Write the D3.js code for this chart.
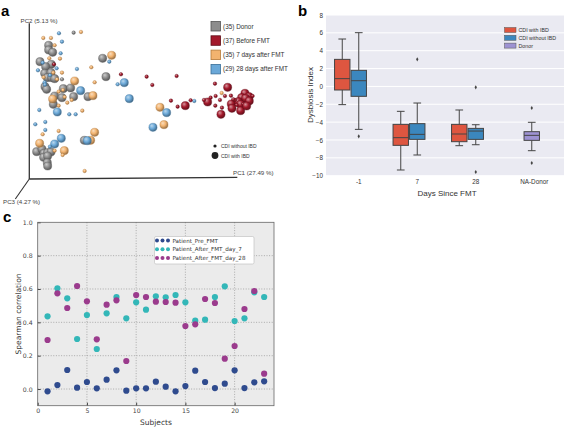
<!DOCTYPE html>
<html><head><meta charset="utf-8">
<script src="https://cdn.jsdelivr.net/npm/d3@7"></script>
<style>body{margin:0;background:#fff}svg{display:block}</style>
</head><body>
<script>
// ---------- Panel a data (PCoA scores; [PC1, PC2, CDI with IBD]) ----------
const donorPts = [[0.133,0.439,0],[0.058,0.401,1],[0.058,0.387,1],[0.070,0.380,1],[0.032,0.352,1],[0.066,0.344,1],[0.049,0.337,1],[0.046,0.317,1],[0.065,0.319,1],[0.054,0.304,1],[0.067,0.304,1],[0.076,0.301,1],[0.047,0.277,1],[0.052,0.269,1],[0.102,0.271,1],[0.124,0.273,1],[0.098,0.299,0],[0.220,0.362,1],[0.230,0.307,1],[0.076,0.249,1],[0.098,0.244,1],[0.133,0.247,1],[0.176,0.247,1],[0.072,0.224,1],[0.075,0.234,0],[0.165,0.116,1],[0.022,0.082,1],[0.038,0.090,1],[0.044,0.077,1],[0.055,0.079,1],[0.065,0.081,1],[0.043,0.065,1],[0.055,0.069,1],[0.054,0.049,1],[0.055,0.039,1]];
const day7Pts = [[0.155,0.441,0],[0.042,0.423,0],[0.065,0.423,0],[0.076,0.401,0],[0.092,0.361,0],[0.072,0.319,0],[0.043,0.305,0],[0.083,0.299,0],[0.098,0.319,0],[0.186,0.335,0],[0.247,0.371,1],[0.136,0.294,1],[0.196,0.290,0],[0.088,0.262,0],[0.101,0.267,0],[0.070,0.240,1],[0.106,0.246,0],[0.191,0.250,1],[0.114,0.229,0],[0.088,0.220,0],[0.159,0.205,0],[0.088,0.144,0],[0.040,0.134,0],[0.196,0.140,1],[0.184,0.116,1],[0.031,0.107,1],[0.105,0.085,1],[0.076,0.085,0],[0.100,0.072,0],[0.166,0.024,0],[0.392,0.215,1],[0.404,0.163,1],[0.577,0.258,0],[0.127,0.237,0],[0.060,0.362,0]];
const day28Pts = [[0.089,0.437,0],[0.098,0.412,0],[0.094,0.377,0],[0.026,0.326,0],[0.046,0.290,0],[0.143,0.330,0],[0.240,0.352,0],[0.154,0.265,1],[0.265,0.284,0],[0.285,0.289,1],[0.300,0.241,1],[0.084,0.201,1],[0.120,0.194,0],[0.139,0.194,0],[0.018,0.164,0],[0.048,0.171,0],[0.048,0.147,0],[0.096,0.122,1],[0.174,0.115,1],[0.076,0.105,1],[0.371,0.155,1],[0.412,0.199,1],[0.495,0.234,0],[0.047,0.283,0],[0.062,0.311,0],[0.040,0.349,0],[0.082,0.332,0],[0.030,0.207,0],[0.062,0.097,0]];
const beforePts = [[0.275,0.314,0],[0.352,0.307,0],[0.369,0.282,0],[0.442,0.309,0],[0.425,0.235,0],[0.445,0.217,0],[0.468,0.220,1],[0.484,0.236,0],[0.557,0.286,0],[0.595,0.275,1],[0.559,0.249,0],[0.587,0.249,0],[0.605,0.250,0],[0.647,0.257,1],[0.659,0.247,1],[0.670,0.249,0],[0.637,0.244,1],[0.649,0.242,1],[0.544,0.244,0],[0.535,0.231,1],[0.606,0.225,1],[0.627,0.232,1],[0.634,0.224,1],[0.660,0.234,1],[0.642,0.225,0],[0.622,0.222,0],[0.608,0.212,1],[0.634,0.205,1],[0.558,0.220,0],[0.578,0.214,0],[0.575,0.194,1],[0.074,0.344,0],[0.617,0.237,0],[0.652,0.219,1],[0.612,0.239,0],[0.572,0.237,0],[0.524,0.237,0]];
const groupLabels = ["(35) Donor","(37) Before FMT","(35) 7 days after FMT","(29) 28 days after FMT"];
const sizeLabels = ["CDI without IBD","CDI with IBD"];
const axisLabelsA = ["PC1 (27.49 %)","PC2 (5.13 %)","PC3 (4.27 %)"];

// ---------- Panel b data (Dysbiosis index box statistics) ----------
const daysCats = ["-1","7","28","NA-Donor"];
const hueNames = ["CDI with IBD","CDI without IBD","Donor"];
// [category, hue, lowWhisker, Q1, median, Q3, highWhisker]
const boxStats = [
  ["-1",0,-2.04,-0.40,0.87,3.03,5.31],
  ["-1",1,-4.81,-1.11,0.64,1.80,6.02],
  ["7",0,-9.36,-6.60,-5.74,-4.25,-2.79],
  ["7",1,-7.68,-5.93,-5.37,-4.17,-1.86],
  ["28",0,-6.64,-6.19,-5.33,-4.25,-2.64],
  ["28",1,-6.53,-5.93,-5.00,-4.70,-4.29],
  ["NA-Donor",2,-7.20,-6.04,-5.48,-5.07,-4.02]
];
// [category, hue, value]
const outliers = [["-1",1,-5.59],["7",1,3.03],["28",1,-0.10],["28",1,-9.59],["NA-Donor",2,-2.42],["NA-Donor",2,-8.58]];
const yTicksB = [-10,-8,-6,-4,-2,0,2,4,6,8];

// ---------- Panel c data (Spearman correlation with donor) ----------
const subjects = d3.range(1,24);
const preFMT = [-0.014,0.024,0.114,0.008,0.042,0.004,0.056,0.112,-0.010,0.004,0.004,0.044,0.014,-0.014,0.018,0.110,0.042,0.006,0.032,0.112,0.006,0.040,0.046];
const day7 = [0.436,0.604,0.544,0.300,0.444,0.240,0.454,0.552,0.424,0.520,0.476,0.556,0.550,0.564,0.520,0.410,0.416,0.552,0.616,0.408,0.424,0.580,0.552];
const day28 = [0.294,0.574,0.486,0.618,0.526,0.298,0.506,0.532,0.168,0.564,0.552,0.524,0.522,0.518,0.378,0.388,0.540,0.516,0.182,0.258,0.480,0.588,0.092];
const seriesNamesC = ["Patient_Pre_FMT","Patient_After_FMT_day_7","Patient_After_FMT_day_28"];
const xTicksC = [0,5,10,15,20];
const yTicksC = [0.0,0.2,0.4,0.6,0.8,1.0];

const svg = d3.select("body").append("svg").attr("width",567).attr("height",428);
const defs = svg.append("defs");

// =================== Panel a ===================
const A = svg.append("g");
const colA = ["#8d8d8d","#a3192b","#f2b36f","#6aa8d8"];
const darkA = ["#555","#5e0c16","#b47a3a","#3a6e98"];
colA.forEach((c,i)=>{
  const g = defs.append("radialGradient").attr("id","sph"+i).attr("cx","40%").attr("cy","38%").attr("r","60%").attr("fx","35%").attr("fy","30%");
  g.append("stop").attr("offset","0%").attr("stop-color",d3.interpolateRgb(c,"#fff")(0.55));
  g.append("stop").attr("offset","55%").attr("stop-color",c);
  g.append("stop").attr("offset","100%").attr("stop-color",d3.interpolateRgb(c,"#000")(0.35));
});
const xA = d3.scaleLinear().domain([0,0.624]).range([29.3,237.3]);
const yA = d3.scaleLinear().domain([0,0.467]).range([179,23.3]);
const rA = d3.scaleOrdinal().domain([0,1]).range([1.8,4.1]);

A.append("line").attr("x1",xA(0)).attr("y1",yA(0)).attr("x2",xA(0)).attr("y2",yA(0.467)).attr("stroke","#333").attr("stroke-width",1.3);
A.append("line").attr("x1",xA(0)).attr("y1",yA(0)).attr("x2",xA(0.624)).attr("y2",yA(0)-1.6).attr("stroke","#333").attr("stroke-width",1.3);
A.append("line").attr("x1",xA(0)).attr("y1",yA(0)).attr("x2",xA(0)-14).attr("y2",yA(0)+20).attr("stroke","#333").attr("stroke-width",1.1);

const fontA = "'Liberation Sans', Arial, sans-serif";
A.append("text").attr("x",233).attr("y",175).text(axisLabelsA[0]).attr("font-family",fontA).attr("font-size",6.2).attr("fill","#444");
A.append("text").attr("x",20.5).attr("y",22.5).text(axisLabelsA[1]).attr("font-family",fontA).attr("font-size",6.2).attr("fill","#444");
A.append("text").attr("x",3).attr("y",203.5).text(axisLabelsA[2]).attr("font-family",fontA).attr("font-size",6.2).attr("fill","#444");

const groupsA = [donorPts, day7Pts, day28Pts, beforePts];
const colorIdx = [0,2,3,1];
groupsA.forEach((pts,gi)=>{
  const ci = colorIdx[gi];
  A.append("g").selectAll("circle").data(pts).join("circle")
    .attr("cx",d=>xA(d[0])).attr("cy",d=>yA(d[1])).attr("r",d=>rA(d[2]))
    .attr("fill","url(#sph"+ci+")").attr("stroke",darkA[ci]).attr("stroke-width",0.35);
});

// legend a
const legA = A.append("g");
groupLabels.forEach((t,i)=>{
  const y = 21.5 + i*14.3;
  legA.append("rect").attr("x",211).attr("y",y).attr("width",9.5).attr("height",9.5).attr("fill",colA[i]).attr("stroke",darkA[i]).attr("stroke-width",0.8);
  legA.append("text").attr("x",223).attr("y",y+7).text(t).attr("font-family",fontA).attr("font-size",6.4).attr("fill","#333");
});
sizeLabels.forEach((t,i)=>{
  const y = 146 + i*9.5;
  legA.append("circle").attr("cx",215).attr("cy",y).attr("r",i?3.4:1.6).attr("fill","#222");
  legA.append("text").attr("x",221).attr("y",y+2).text(t).attr("font-family",fontA).attr("font-size",5).attr("fill","#333");
});

// =================== Panel b ===================
const B = svg.append("g");
const fontB = "'Liberation Sans', Arial, sans-serif";
const xB = d3.scaleBand().domain(daysCats).range([329.5,563.5]);
const yB = d3.scaleLinear().domain([-10,8]).range([175.7,15]);
const hueOffset = d3.scaleOrdinal().domain([0,1,2]).range([-16.5,0,-2.5]);
const hueColor = d3.scaleOrdinal().domain([0,1,2]).range(["#de5640","#3b87be","#9d92d2"]);
const boxW = 15.4;
B.append("rect").attr("x",326).attr("y",15).attr("width",238).attr("height",160.7).attr("fill","#eaeaf2");
B.append("g").selectAll("line").data(yTicksB).join("line")
  .attr("x1",326).attr("x2",564).attr("y1",d=>yB(d)).attr("y2",d=>yB(d)).attr("stroke","#fff").attr("stroke-width",1);
const yAxB = B.append("g").attr("transform","translate(326,0)").call(d3.axisLeft(yB).tickValues(yTicksB).tickSize(0).tickPadding(3).tickFormat(d3.format("d")));
yAxB.select(".domain").remove();
yAxB.selectAll("text").attr("font-family",fontB).attr("font-size",6.3).attr("fill","#333");
const xAxB = B.append("g").attr("transform","translate(0,175.7)").call(d3.axisBottom(xB).tickSize(0).tickPadding(4));
xAxB.select(".domain").remove();
xAxB.selectAll("text").attr("font-family",fontB).attr("font-size",6.3).attr("fill","#333");
B.append("text").attr("transform","translate(313,95) rotate(-90)").attr("text-anchor","middle").text("Dysbiosis Index").attr("font-family",fontB).attr("font-size",8).attr("fill","#333");
B.append("text").attr("x",447).attr("y",196).attr("text-anchor","middle").text("Days Since FMT").attr("font-family",fontB).attr("font-size",8).attr("fill","#333");

const boxG = B.append("g");
boxStats.forEach(s=>{
  const cx = xB(s[0]) + xB.bandwidth()/2 + hueOffset(s[1]);
  const g = boxG.append("g").attr("stroke","#444").attr("stroke-width",1);
  g.append("line").attr("x1",cx).attr("x2",cx).attr("y1",yB(s[2])).attr("y2",yB(s[3]));
  g.append("line").attr("x1",cx).attr("x2",cx).attr("y1",yB(s[5])).attr("y2",yB(s[6]));
  g.append("line").attr("x1",cx-boxW/4).attr("x2",cx+boxW/4).attr("y1",yB(s[2])).attr("y2",yB(s[2]));
  g.append("line").attr("x1",cx-boxW/4).attr("x2",cx+boxW/4).attr("y1",yB(s[6])).attr("y2",yB(s[6]));
  g.append("rect").attr("x",cx-boxW/2).attr("width",boxW).attr("y",yB(s[5])).attr("height",yB(s[3])-yB(s[5])).attr("fill",hueColor(s[1]));
  g.append("line").attr("x1",cx-boxW/2).attr("x2",cx+boxW/2).attr("y1",yB(s[4])).attr("y2",yB(s[4]));
});
boxG.selectAll("path.out").data(outliers).join("path").attr("class","out")
  .attr("d",d3.symbol(d3.symbolDiamond,5))
  .attr("transform",d=>`translate(${xB(d[0])+xB.bandwidth()/2+hueOffset(d[1])},${yB(d[2])})`)
  .attr("fill","#444");

const legB = B.append("g");
hueNames.forEach((t,i)=>{
  const y = 30 + i*7.8;
  legB.append("rect").attr("x",504.5).attr("y",y-2.5).attr("width",11.5).attr("height",5).attr("fill",hueColor(i)).attr("stroke","#555").attr("stroke-width",0.5);
  legB.append("text").attr("x",518.5).attr("y",y+2).text(t).attr("font-family",fontB).attr("font-size",5.3).attr("fill","#333");
});

// =================== Panel c ===================
const C = svg.append("g");
const fontC = "'DejaVu Sans', sans-serif";
const xC = d3.scaleLinear().domain([0,24]).range([37.7,274]);
const yC = d3.scaleLinear().domain([-0.1,1.0]).range([405.7,222.3]);
C.append("rect").attr("x",37.7).attr("y",222.3).attr("width",274-37.7).attr("height",405.7-222.3).attr("fill","#ebebeb");
C.append("g").selectAll("line").data(xTicksC.slice(1)).join("line")
  .attr("x1",d=>xC(d)).attr("x2",d=>xC(d)).attr("y1",222.3).attr("y2",405.7)
  .attr("stroke","#9a9a9a").attr("stroke-width",0.8).attr("stroke-dasharray","1,1.6");
C.append("g").selectAll("line").data(yTicksC.slice(0,5)).join("line")
  .attr("y1",d=>yC(d)).attr("y2",d=>yC(d)).attr("x1",37.7).attr("x2",274)
  .attr("stroke","#9a9a9a").attr("stroke-width",0.8).attr("stroke-dasharray","1,1.6");
const xAxC = C.append("g").attr("transform","translate(0,405.7)").call(d3.axisBottom(xC).tickValues(xTicksC).tickSize(-3).tickPadding(3).tickFormat(d3.format("d")));
const yAxC = C.append("g").attr("transform","translate(37.7,0)").call(d3.axisLeft(yC).tickValues(yTicksC).tickSize(-3).tickPadding(5).tickFormat(d3.format(".1f")));
[xAxC,yAxC].forEach(ax=>{ax.select(".domain").remove();ax.selectAll("line").attr("stroke","#444");ax.selectAll("text").attr("font-family",fontC).attr("font-size",6.2).attr("fill","#444");});
C.append("rect").attr("x",37.7).attr("y",222.3).attr("width",274-37.7).attr("height",405.7-222.3).attr("fill","none").attr("stroke","#666").attr("stroke-width",0.8);
C.append("text").attr("x",156).attr("y",425).attr("text-anchor","middle").text("Subjects").attr("font-family",fontC).attr("font-size",7.5).attr("fill","#333");
C.append("text").attr("transform","translate(21,314) rotate(-90)").attr("text-anchor","middle").text("Spearman correlation").attr("font-family",fontC).attr("font-size",7.5).attr("fill","#333");

const colC = ["#2f4b8e","#33b7b8","#9b3b8d"];
const seriesC = [preFMT, day7, day28];
seriesC.forEach((vals,si)=>{
  C.append("g").selectAll("circle").data(vals).join("circle")
    .attr("cx",(d,i)=>xC(subjects[i])).attr("cy",d=>yC(d)).attr("r",3.1)
    .attr("fill",colC[si]);
});
const legC = C.append("g");
legC.append("rect").attr("x",154.5).attr("y",236.5).attr("width",99.5).attr("height",27.5).attr("rx",1.5).attr("fill","#fff").attr("stroke","#bbb").attr("stroke-width",0.6);
seriesNamesC.forEach((t,i)=>{
  const y = 240.5 + i*8.7;
  [157,162.5,168].forEach(x=>legC.append("circle").attr("cx",x).attr("cy",y).attr("r",2).attr("fill",colC[i]));
  legC.append("text").attr("x",172.5).attr("y",y+2).text(t).attr("font-family",fontC).attr("font-size",5.6).attr("fill","#333");
});

// panel letters
const letters = [["a",1,16],["b",298,16],["c",3,222]];
svg.append("g").selectAll("text").data(letters).join("text")
  .attr("x",d=>d[1]).attr("y",d=>d[2]).text(d=>d[0])
  .attr("font-family","'Liberation Sans', Arial, sans-serif").attr("font-weight","bold").attr("font-size",15).attr("fill","#000");
</script>
</body></html>
